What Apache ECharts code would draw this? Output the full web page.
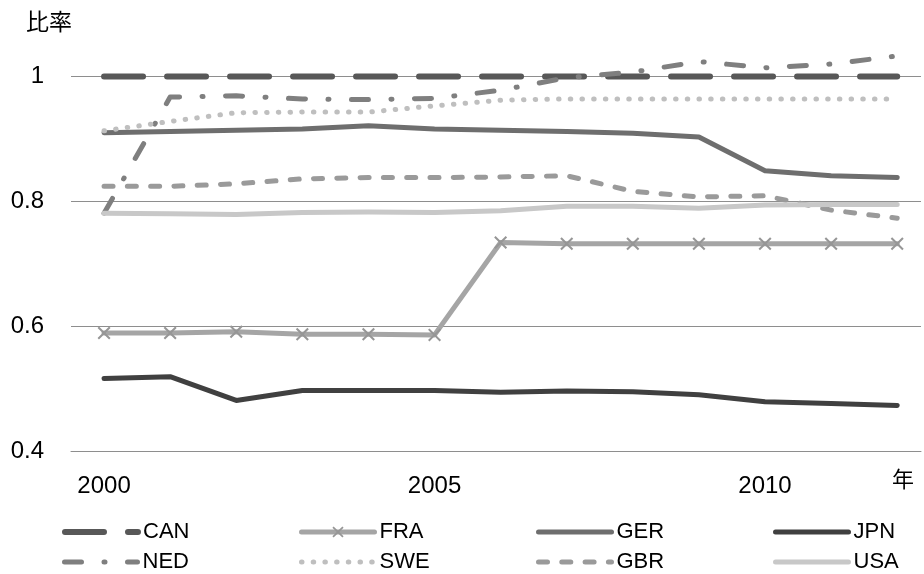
<!DOCTYPE html>
<html><head><meta charset="utf-8">
<script src="https://cdn.jsdelivr.net/npm/echarts@6/dist/echarts.min.js"></script>
<style>html,body{margin:0;padding:0;background:#fff}#c{width:924px;height:574px}</style>
</head><body><div id="c"></div>
<script>
// ---- data ----
const years = [2000, 2001, 2002, 2003, 2004, 2005, 2006, 2007, 2008, 2009, 2010, 2011, 2012];
const xTickLabels = [2000, 2005, 2010];
const yTicks = [0.4, 0.6, 0.8, 1];
const seriesNames = ['CAN', 'FRA', 'GER', 'JPN', 'NED', 'SWE', 'GBR', 'USA'];
const CAN = [1, 1, 1, 1, 1, 1, 1, 1, 1, 1, 1, 1, 1];
const FRA = [0.589, 0.589, 0.591, 0.587, 0.587, 0.586, 0.734, 0.732, 0.732, 0.732, 0.732, 0.732, 0.732];
const GER = [0.910, 0.912, 0.914, 0.916, 0.921, 0.916, 0.914, 0.912, 0.909, 0.903, 0.849, 0.841, 0.838];
const JPN = [0.516, 0.519, 0.481, 0.497, 0.497, 0.497, 0.494, 0.496, 0.495, 0.490, 0.479, 0.476, 0.473];
const NED = [0.781, 0.967, 0.969, 0.964, 0.963, 0.965, 0.978, 0.998, 1.007, 1.024, 1.014, 1.020, 1.033];
const SWE = [0.913, 0.928, 0.942, 0.943, 0.943, 0.953, 0.962, 0.964, 0.964, 0.964, 0.964, 0.964, 0.964];
const GBR = [0.824, 0.824, 0.828, 0.836, 0.838, 0.838, 0.839, 0.841, 0.816, 0.807, 0.809, 0.786, 0.773];
const USA = [0.781, 0.780, 0.779, 0.782, 0.783, 0.782, 0.785, 0.792, 0.792, 0.789, 0.794, 0.795, 0.795];
const seriesValues = [CAN, FRA, GER, JPN, NED, SWE, GBR, USA];

// ---- styles ----
const FONT = '"Liberation Sans", "Noto Sans CJK JP", sans-serif';
const XMARK = 'path://M0,1.1L1.1,0L5,3.9L8.9,0L10,1.1L6.1,5L10,8.9L8.9,10L5,6.1L1.1,10L0,8.9L3.9,5Z';
const styles = {
  CAN: { color: '#585858', width: 6, type: [39, 24] },
  FRA: { color: '#a5a5a5', width: 5, type: 'solid', mark: '#969696' },
  GER: { color: '#6e6e6e', width: 5, type: 'solid' },
  JPN: { color: '#404040', width: 5, type: 'solid' },
  NED: { color: '#7f7f7f', width: 5, type: [17, 22.5, 1, 22.5] },
  SWE: { color: '#bfbfbf', width: 5, type: [0.5, 11.2] },
  GBR: { color: '#9a9a9a', width: 5, type: [9, 14.3] },
  USA: { color: '#c8c8c8', width: 5, type: 'solid' }
};

const chart = echarts.init(document.getElementById('c'), null, { renderer: 'canvas' });

const series = seriesNames.map((n, i) => {
  const s = styles[n];
  const isFra = n === 'FRA';
  return {
    name: n,
    type: 'line',
    data: years.map((y, j) => [y, seriesValues[i][j]]),
    clip: false,
    symbol: isFra ? XMARK : 'none',
    symbolSize: 13,
    showSymbol: isFra,
    lineStyle: { color: s.color, width: s.width, type: s.type, cap: 'round', join: 'round' },
    itemStyle: { color: isFra ? s.mark : s.color },
    emphasis: { disabled: true },
    z: 2 + i
  };
});

const legends = seriesNames.map((n, i) => {
  const s = styles[n];
  const isFra = n === 'FRA';
  return {
    data: [n],
    left: 62 + (i % 4) * 237,
    top: i < 4 ? 520 : 550,
    orient: 'horizontal',
    padding: 0,
    itemGap: 0,
    itemWidth: 73,
    itemHeight: 14,
    selectedMode: false,
    lineStyle: { width: s.width, type: s.type, color: s.color, cap: 'round' },
    itemStyle: isFra ? { color: s.mark, opacity: 1 } : { opacity: 0 },
    textStyle: { fontSize: 22, color: '#000', fontFamily: FONT, lineHeight: 24 }
  };
});

chart.setOption({
  animation: false,
  backgroundColor: '#fff',
  textStyle: { fontFamily: FONT },
  grid: { left: 71, right: 3, top: 76.5, bottom: 123 },
  legend: legends,
  xAxis: {
    type: 'value',
    min: 1999.5,
    max: 2012.36,
    interval: 0.5,
    name: '年',
    nameLocation: 'end',
    nameGap: -18,
    nameMoveOverlap: false,
    nameTextStyle: { fontSize: 22, color: '#000', fontFamily: FONT, align: 'center', verticalAlign: 'top', lineHeight: 24, padding: [18, 0, 0, 0] },
    axisLine: { show: true, lineStyle: { color: '#8e8e8e', width: 1 } },
    axisTick: { show: false },
    splitLine: { show: false },
    axisLabel: {
      margin: 23,
      fontSize: 24,
      color: '#000',
      fontFamily: FONT,
      showMinLabel: true,
      showMaxLabel: true,
      formatter: function (v) {
        const r = Math.round(v);
        return (Math.abs(v - r) < 1e-6 && xTickLabels.indexOf(r) >= 0) ? String(r) : '';
      }
    }
  },
  yAxis: {
    type: 'value',
    min: yTicks[0],
    max: yTicks[yTicks.length - 1],
    interval: 0.2,
    name: '比率',
    nameLocation: 'end',
    nameGap: 38.5,
    nameTextStyle: { fontSize: 23, color: '#000', fontFamily: FONT, align: 'center', lineHeight: 28, padding: [0, 44, 0, 0] },
    axisLine: { show: false },
    axisTick: { show: false },
    splitLine: { show: true, lineStyle: { color: '#8e8e8e', width: 1 } },
    axisLabel: {
      margin: 27,
      fontSize: 24,
      color: '#000',
      fontFamily: FONT,
      formatter: function (v) { return String(Math.round(v * 10) / 10); }
    }
  },
  series: series
});
</script>
</body></html>
